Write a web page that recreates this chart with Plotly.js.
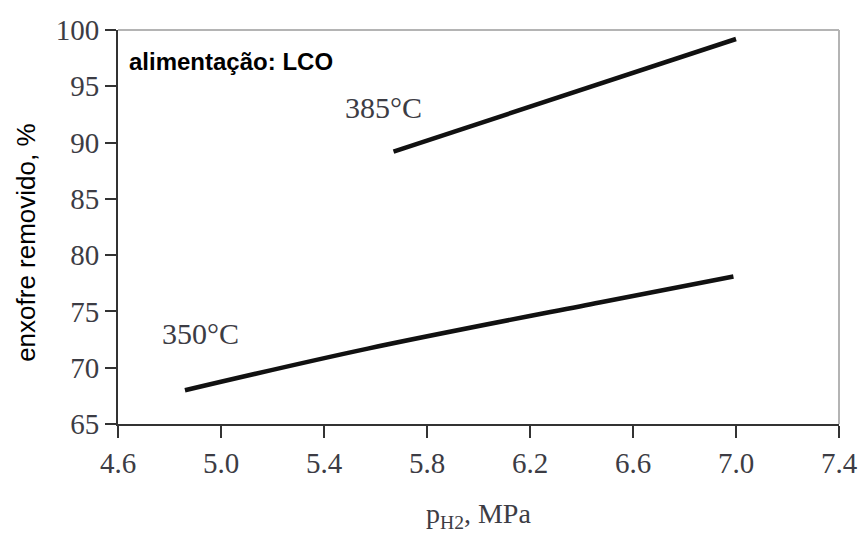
<!DOCTYPE html>
<html>
<head>
<meta charset="utf-8">
<script src="https://cdn.plot.ly/plotly-3.0.1.min.js"></script>
<style>html,body{margin:0;padding:0;background:#fff;}#chart{width:861px;height:533px;}</style>
</head>
<body>
<div id="chart"></div>
<script>
// Data
const pressure350 = [4.86, 5.57, 6.47, 6.99];
const removal350  = [68.0, 71.7, 75.8, 78.1];
const pressure385 = [5.67, 7.00];
const removal385  = [89.2, 99.2];
const seriesLabels = ["350°C", "385°C"];
const labelX = [4.92, 5.63];
const labelY = [73.0, 93.1];
const xTicks = [4.6, 5.0, 5.4, 5.8, 6.2, 6.6, 7.0, 7.4];
const xTickText = ["4.6", "5.0", "5.4", "5.8", "6.2", "6.6", "7.0", "7.4"];
const yTicks = [65, 70, 75, 80, 85, 90, 95, 100];

const serif = "Liberation Serif, Times New Roman, serif";
const sans = "Liberation Sans, Arial, sans-serif";
const tickColor = "#3c3c44";

const traces = [
  {x: pressure350, y: removal350, mode: "lines", line: {color: "#111", width: 4.5, shape: "spline", smoothing: 1}, name: seriesLabels[0], hoverinfo: "x+y"},
  {x: pressure385, y: removal385, mode: "lines", line: {color: "#111", width: 4.5}, name: seriesLabels[1], hoverinfo: "x+y"}
];

const layout = {
  width: 861, height: 533,
  margin: {l: 118, r: 22, t: 30, b: 109},
  paper_bgcolor: "#fff", plot_bgcolor: "#fff",
  showlegend: false,
  xaxis: {
    range: [4.6, 7.4], tickvals: xTicks, ticktext: xTickText,
    ticks: "outside", ticklen: 12, tickwidth: 2, tickcolor: "#333",
    showline: true, linecolor: "#333", linewidth: 2,
    showgrid: false, zeroline: false,
    tickfont: {family: serif, size: 29, color: tickColor}
  },
  yaxis: {
    range: [65, 100], tickvals: yTicks,
    ticks: "outside", ticklen: 11, tickwidth: 2, tickcolor: "#333",
    showline: true, linecolor: "#333", linewidth: 2,
    showgrid: false, zeroline: false,
    tickfont: {family: serif, size: 29, color: tickColor}
  },
  shapes: [
    {type: "line", xref: "paper", yref: "paper", x0: 0, x1: 1, y0: 1, y1: 1, line: {color: "#b4b4b4", width: 2}},
    {type: "line", xref: "paper", yref: "paper", x0: 1, x1: 1, y0: 0, y1: 1, line: {color: "#b4b4b4", width: 2}}
  ],
  annotations: [
    {x: labelX[0], y: labelY[0], xref: "x", yref: "y", text: seriesLabels[0], showarrow: false,
     font: {family: serif, size: 30, color: tickColor}},
    {x: labelX[1], y: labelY[1], xref: "x", yref: "y", text: seriesLabels[1], showarrow: false,
     font: {family: serif, size: 30, color: tickColor}},
    {x: 0.0125, y: 0.919, xref: "paper", yref: "paper", xanchor: "left", yanchor: "middle",
     text: "<b>alimentação: LCO</b>", showarrow: false,
     font: {family: sans, size: 24, color: "#000"}},
    {x: -0.128, y: 0.459, xref: "paper", yref: "paper", xanchor: "center", yanchor: "middle",
     text: "enxofre removido, %", textangle: -90, showarrow: false,
     font: {family: sans, size: 26, color: "#000"}},
    {x: 0.5, y: -0.232, xref: "paper", yref: "paper", xanchor: "center", yanchor: "middle",
     text: "p<sub>H2</sub>, MPa", showarrow: false,
     font: {family: serif, size: 28, color: tickColor}}
  ]
};

Plotly.newPlot("chart", traces, layout, {displayModeBar: false, staticPlot: true});
</script>
</body>
</html>
